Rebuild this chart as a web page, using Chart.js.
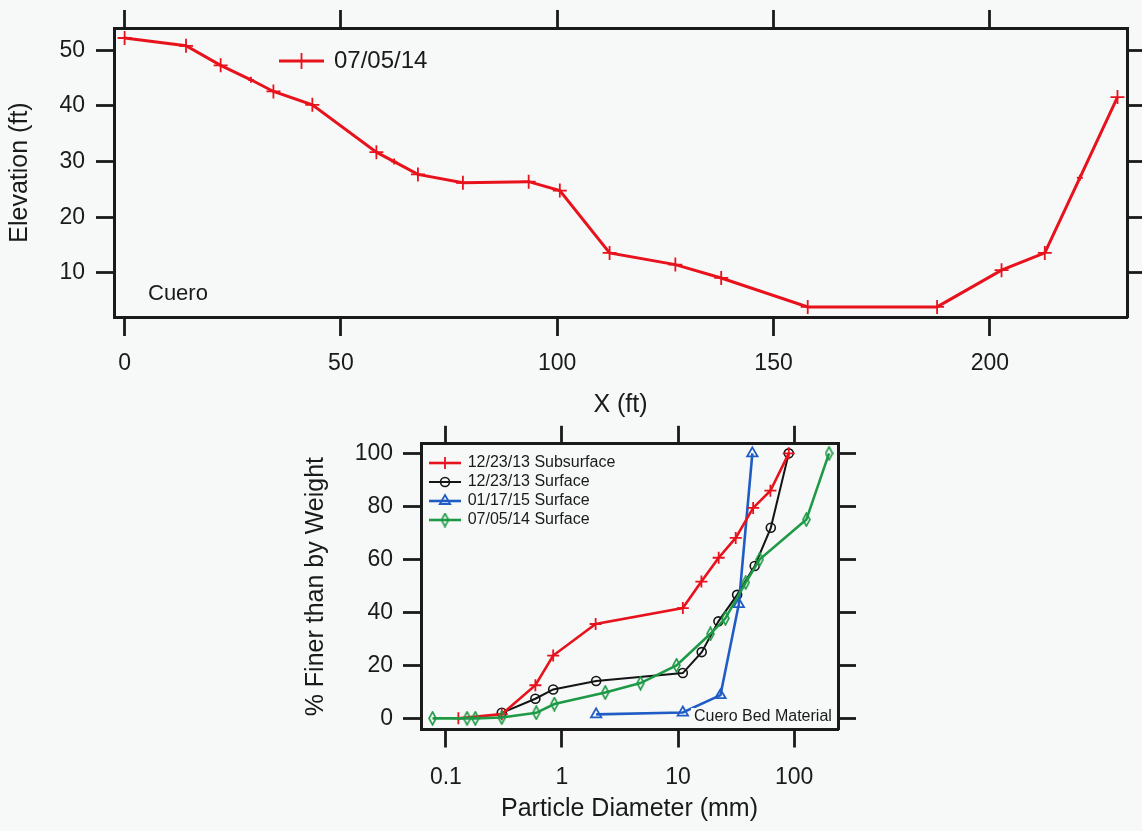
<!DOCTYPE html>
<html>
<head>
<meta charset="utf-8">
<script src="https://cdn.jsdelivr.net/npm/chart.js@4.4.1/dist/chart.umd.min.js"></script>
<style>
  body { margin: 0; background: #f7f8f8; width: 1142px; height: 831px; overflow: hidden; position: relative; }
  canvas { position: absolute; }
  #profile { left: 0; top: 0; }
  #grain { left: 280px; top: 420px; }
</style>
</head>
<body>
<canvas id="profile" width="1142" height="420"></canvas>
<canvas id="grain" width="600" height="411"></canvas>
<script>
// cross section, 07/05/14
const stationFt = [0, 14.2, 22.2, 29.2, 34.4, 43.4, 58.2, 62.3, 67.8, 78.2, 93.4, 100.6,
                   112.1, 127.3, 137.9, 157.9, 187.8, 202.7, 212.7, 220.8, 229.5];
const elevationFt = [52.2, 50.8, 47.3, 44.7, 42.6, 40.2, 31.7, 30.0, 27.7, 26.2, 26.4, 24.8,
                     13.6, 11.5, 9.1, 3.9, 3.9, 10.5, 13.6, 27.1, 41.6];
const profileXTicks = [0, 50, 100, 150, 200];
const profileYTicks = [10, 20, 30, 40, 50];

// grain size curves
const subsurfDiam = [0.128, 0.303, 0.59, 0.84, 1.95, 11.0, 15.9, 22.4, 31.4, 44.4, 62.5, 90];
const subsurfPct  = [0, 1.6, 12.5, 23.7, 35.6, 41.6, 51.6, 60.6, 68.1, 79.4, 85.9, 100];
const surf13Diam = [0.303, 0.59, 0.84, 1.97, 11.0, 16.0, 22.3, 32.3, 45.8, 63, 90];
const surf13Pct  = [2.1, 7.4, 10.9, 14.1, 17.1, 25, 36.6, 46.6, 57.5, 71.9, 100];
const surf15Diam = [1.97, 11.0, 23.2, 33.4, 43.7];
const surf15Pct  = [1.5, 2.2, 8.75, 43.1, 100];
const surf14Diam = [0.0767, 0.152, 0.179, 0.303, 0.6, 0.86, 2.36, 4.75, 9.7, 19.0, 25.6, 38.3, 50.6, 127.6, 200];
const surf14Pct  = [0, 0, 0, 0.3, 2.1, 5.4, 9.75, 13.3, 20, 31.9, 37.75, 51.25, 60, 75, 100];
const grainXTicks = [0.1, 1, 10, 100];
const grainYTicks = [0, 20, 40, 60, 80, 100];

const INK = '#1a1a1a';
const FONT = '"Liberation Sans", Arial, Helvetica, sans-serif';
const RED = '#e8121c', BLACK = '#141414', BLUE = '#1f5cc4', GREEN = '#1e9a46';

Chart.defaults.animation = false;
Chart.defaults.font.family = FONT;
Chart.defaults.color = INK;

function fixedSize(px) {
  return (scale) => { if (scale.isHorizontal()) scale.height = px; else scale.width = px; };
}
function onlyTicks(values) {
  return (scale) => { scale.ticks = values.map(v => ({ value: v })); };
}
function axis(position, size, tickValues, showLabels, extra) {
  return Object.assign({
    position: position,
    grid: { drawOnChartArea: false, drawTicks: true, tickLength: 18, tickWidth: 2.8, tickColor: INK },
    border: { display: true, color: INK, width: 3 },
    ticks: { display: showLabels, color: INK, font: { size: 23 }, padding: 11, maxRotation: 0, autoSkip: false,
             callback: (v) => String(v) },
    afterFit: fixedSize(size),
    afterBuildTicks: onlyTicks(tickValues),
  }, extra);
}
function pairs(xs, ys) { return xs.map((x, i) => ({ x: x, y: ys[i] })); }

function diamond(color) {
  const c = document.createElement('canvas');
  c.width = 9; c.height = 15;
  const g = c.getContext('2d');
  g.strokeStyle = color; g.lineWidth = 1.6;
  g.beginPath();
  g.moveTo(4.5, 1); g.lineTo(8, 7.5); g.lineTo(4.5, 14); g.lineTo(1, 7.5); g.closePath();
  g.stroke();
  return c;
}

function legendRow(ctx, x0, x1, y, ds, text, size, r) {
  ctx.save();
  ctx.strokeStyle = ds.borderColor;
  ctx.lineWidth = ds.borderWidth;
  ctx.beginPath(); ctx.moveTo(x0, y); ctx.lineTo(x1, y); ctx.stroke();
  ctx.fillStyle = 'rgba(0,0,0,0)';
  ctx.lineWidth = ds.pointBorderWidth;
  Chart.helpers.drawPoint(ctx, { pointStyle: ds.pointStyle, radius: r, borderWidth: ds.pointBorderWidth, rotation: 0 },
                          (x0 + x1) / 2, y);
  ctx.fillStyle = INK;
  ctx.font = size + 'px ' + FONT;
  ctx.textBaseline = 'middle';
  ctx.textAlign = 'left';
  ctx.fillText(text, x1 + 10 * (size / 24), y);
  ctx.restore();
}

// ---- top: channel profile ----
const profileChart = new Chart(document.getElementById('profile'), {
  type: 'line',
  data: {
    datasets: [{
      label: '07/05/14',
      data: pairs(stationFt, elevationFt),
      borderColor: RED, borderWidth: 3, tension: 0, fill: false,
      pointStyle: 'cross', pointBorderWidth: 1.8, pointBorderColor: RED,
      pointRadius: stationFt.map((s, i) => (i === 3 || i === 7 || i === 19) ? 3 : 7),
    }],
  },
  options: {
    responsive: false,
    devicePixelRatio: 1,
    layout: { padding: 0 },
    plugins: { legend: { display: false }, tooltip: { enabled: false } },
    scales: {
      x: axis('bottom', 103, profileXTicks, true, {
        type: 'linear', min: -2.45, max: 231.7,
        title: { display: true, text: 'X (ft)', color: INK, font: { size: 25 }, padding: { top: 0, bottom: 0 } },
      }),
      x2: axis('top', 28, profileXTicks, false, { type: 'linear', axis: 'x', min: -2.45, max: 231.7 }),
      y: axis('left', 114, profileYTicks, true, {
        type: 'linear', min: 2.09, max: 54.0,
        title: { display: true, text: 'Elevation (ft)', color: INK, font: { size: 25 }, padding: { top: 5, bottom: 0 } },
      }),
      y2: axis('right', 15, profileYTicks, false, { type: 'linear', axis: 'y', min: 2.09, max: 54.0 }),
    },
  },
  plugins: [{
    id: 'profileNotes',
    afterDraw(chart) {
      const ctx = chart.ctx;
      legendRow(ctx, 279, 324, 61, chart.data.datasets[0], '07/05/14', 24, 8);
      ctx.save();
      ctx.fillStyle = INK;
      ctx.font = '22px ' + FONT;
      ctx.textBaseline = 'middle';
      ctx.fillText('Cuero', 148, 294);
      ctx.restore();
    },
  }],
});
profileChart.options.scales.x.ticks.padding = 14;
profileChart.options.scales.x.grid.tickLength = 19;
profileChart.update();

// ---- bottom: grain size distribution ----
const grainChart = new Chart(document.getElementById('grain'), {
  type: 'line',
  data: {
    datasets: [
      { label: '12/23/13 Subsurface', data: pairs(subsurfDiam, subsurfPct), order: 1,
        borderColor: RED, borderWidth: 2.6, pointStyle: 'cross', pointRadius: 6, pointBorderWidth: 1.8,
        pointBorderColor: RED, pointBackgroundColor: 'rgba(0,0,0,0)' },
      { label: '12/23/13 Surface', data: pairs(surf13Diam, surf13Pct), order: 3,
        borderColor: BLACK, borderWidth: 2, pointStyle: 'circle', pointRadius: 4.5, pointBorderWidth: 1.6,
        pointBorderColor: BLACK, pointBackgroundColor: 'rgba(0,0,0,0)' },
      { label: '01/17/15 Surface', data: pairs(surf15Diam, surf15Pct), order: 2,
        borderColor: BLUE, borderWidth: 2.6, pointStyle: 'triangle', pointRadius: 6, pointBorderWidth: 1.8,
        pointBorderColor: BLUE, pointBackgroundColor: 'rgba(0,0,0,0)' },
      { label: '07/05/14 Surface', data: pairs(surf14Diam, surf14Pct), order: 0,
        borderColor: GREEN, borderWidth: 2.6, pointStyle: diamond(GREEN), pointRadius: 6, pointBorderWidth: 1.6,
        pointBorderColor: GREEN, pointBackgroundColor: 'rgba(0,0,0,0)' },
    ].map(d => Object.assign({ tension: 0, fill: false }, d)),
  },
  options: {
    responsive: false,
    devicePixelRatio: 1,
    layout: { padding: 0 },
    plugins: { legend: { display: false }, tooltip: { enabled: false } },
    scales: {
      x: axis('bottom', 101.5, grainXTicks, true, {
        type: 'logarithmic', min: 0.061, max: 239,
        title: { display: true, text: 'Particle Diameter (mm)', color: INK, font: { size: 25 }, padding: { top: 0, bottom: 7 } },
      }),
      x2: axis('top', 22, grainXTicks, false, { type: 'logarithmic', axis: 'x', min: 0.061, max: 239 }),
      y: axis('left', 141, grainYTicks, true, {
        type: 'linear', min: -4.2, max: 103.6,
        title: { display: true, text: '% Finer than by Weight', color: INK, font: { size: 25 }, padding: { top: 21, bottom: 0 } },
      }),
      y2: axis('right', 42, grainYTicks, false, { type: 'linear', axis: 'y', min: -4.2, max: 103.6 }),
    },
  },
  plugins: [{
    id: 'grainNotes',
    afterDatasetsDraw(chart) {
      const ctx = chart.ctx;
      ctx.save();
      ctx.fillStyle = '#f7f8f8';
      ctx.fillRect(411, 288, 145, 17);
      ctx.fillStyle = INK;
      ctx.font = '16px ' + FONT;
      ctx.textBaseline = 'middle';
      ctx.fillText('Cuero Bed Material', 414, 297);
      ctx.restore();
    },
    afterDraw(chart) {
      const ctx = chart.ctx;
      const rows = [43, 62, 81, 100];
      chart.data.datasets.forEach((ds, i) => {
        legendRow(ctx, 149, 181, rows[i], ds, ds.label, 16, ds.pointRadius);
      });
    },
  }],
});
grainChart.options.scales.x.ticks.padding = 16;
grainChart.options.scales.y.ticks.padding = 10;
grainChart.update();
</script>
</body>
</html>
